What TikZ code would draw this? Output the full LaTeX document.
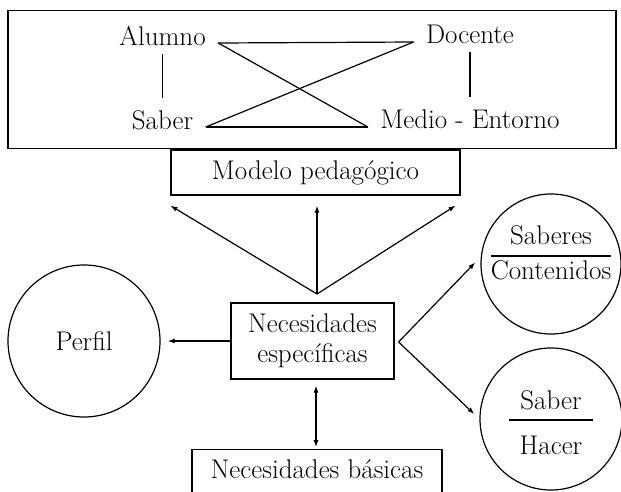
\documentclass[tikz,border=0pt]{standalone}
\usetikzlibrary{arrows.meta,calc,positioning}
\tikzset{every picture/.style={line width=1.2pt}}
\tikzset{
  texto/.style={font=\fontsize{27}{30}\selectfont, inner xsep=12pt, inner ysep=8pt},
  rotulo/.style={font=\fontsize{27}{30}\selectfont, inner sep=0pt},
  caja/.style={draw, font=\fontsize{27}{30}\selectfont, align=center},
  circulo/.style={draw, circle, inner sep=0pt, font=\fontsize{27}{30}\selectfont},
  flecha/.style={-{Latex[length=7pt,width=5pt]}},
  dobleflecha/.style={{Latex[length=7pt,width=5pt]}-{Latex[length=7pt,width=5pt]}},
}

\begin{document}
\begin{tikzpicture}[x=1pt,y=1pt,yscale=-1]
\useasboundingbox (0,0) rectangle (621,491);

%Marco superior
\node[draw, inner sep=0pt, minimum width=608pt, minimum height=138pt] (marco) at (312,79.5) {};

% Text Node
\node[texto, anchor=base] (alumno) at (162.5,45) {Alumno};
% Text Node
\node[texto, anchor=base] (docente) at (470,43) {Docente};
% Text Node
\node[texto, anchor=base] (saber) at (162.5,129) {Saber};
% Text Node
\node[texto, anchor=base] (medio) at (470,128) {Medio - Entorno};

%Straight Lines
\draw ($(alumno.base east)+(0,-2)$) -- ($(docente.base west)+(0,-1)$);
\draw ($(alumno.base east)+(0,-2)$) -- ($(medio.base west)+(0,-1)$);
\draw ($(docente.base west)+(0,-1)$) -- ($(saber.base east)+(0,-2)$);
\draw ($(saber.base east)+(0,-2)$) -- ($(medio.base west)+(0,-1)$);
\draw[shorten >=4pt] (alumno.south) -- (saber.north);
\draw[shorten >=4pt] (docente.south) -- (medio.north);

%Cajas
\node[caja, minimum width=289pt, minimum height=45pt] (modelo) at (315.5,172.5) {Modelo pedagógico};
\node[caja, minimum width=163pt, minimum height=76pt] (especificas) at (312.5,341) {Necesidades\\específicas};
\node[caja, anchor=north, minimum width=250pt, inner ysep=10pt, text height=19pt, text depth=14pt] (basicas) at (317,449) {Necesidades básicas};

%Circulos
\node[circulo, minimum size=152pt] (perfil) at (84,341) {Perfil};
\node[circulo, minimum size=140pt] (saberes) at (551,264) {};
\node[circulo, minimum size=142pt] (saberhacer) at (551,419) {};

% Text Node
\node[rotulo] (saberesA) at ($(saberes)+(0,-29)$) {Saberes};
\node[rotulo] (contenidos) at ($(saberes)+(0,6)$) {Contenidos};
\draw ($(saberes)+(-60,-8)$) -- ($(saberes)+(60,-8)$);
% Text Node
\node[rotulo] (saberB) at ($(saberhacer)+(0,-19)$) {Saber};
\node[rotulo] (hacer) at ($(saberhacer)+(0,26)$) {Hacer};
\draw ($(saberhacer)+(-42,1)$) -- ($(saberhacer)+(42,1)$);

%Flechas
\coordinate (vertice) at (317,294);
\coordinate (ramal) at ($(especificas.east)+(4,1)$);
\draw[flecha] (vertice) -- ($(modelo.south west)+(0,10)$);
\draw[flecha] (vertice) -- ($(modelo.south)+(1.5,10)$);
\draw[flecha] (vertice) -- ($(modelo.south east)+(-5,10)$);
\draw[flecha, shorten >=7pt] (especificas.west) -- (perfil.east);
\draw[flecha, shorten >=8pt] (ramal) -- (saberes.174);
\draw[flecha, shorten >=7pt] (ramal) -- (saberhacer.west);
\draw[dobleflecha] ($(especificas.south)+(3.5,6)$) -- ($(basicas.north)+(-1,-2)$);

\end{tikzpicture}
\end{document}
